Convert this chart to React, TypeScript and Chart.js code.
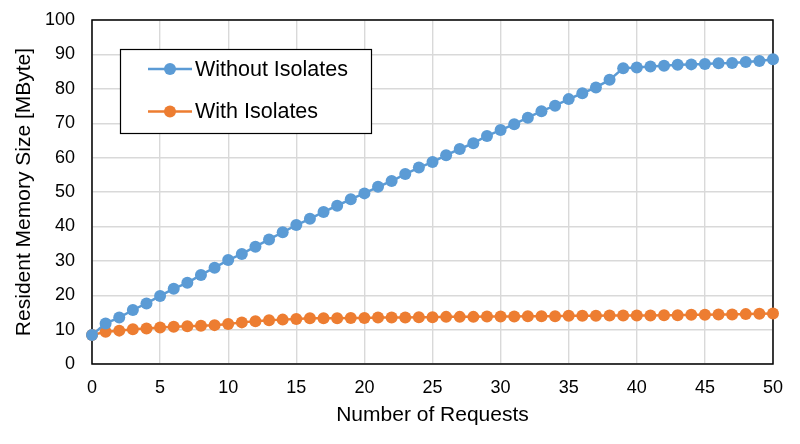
import React, { useEffect, useRef } from "react";
import { Chart, registerables } from "chart.js";

Chart.register(...registerables);

const requests: number[] = Array.from({ length: 51 }, (_, i) => i);

const withoutIsolates: number[] = [
  8.4, 11.8, 13.5, 15.7, 17.6, 19.8, 21.9, 23.6, 25.9, 28.0,
  30.2, 32.0, 34.1, 36.2, 38.3, 40.4, 42.2, 44.2, 46.0, 47.9,
  49.6, 51.5, 53.2, 55.2, 57.1, 58.7, 60.7, 62.5, 64.2, 66.3,
  68.0, 69.7, 71.6, 73.5, 75.1, 77.0, 78.7, 80.4, 82.6, 86.0,
  86.2, 86.5, 86.7, 87.0, 87.1, 87.2, 87.4, 87.5, 87.8, 88.1,
  88.6,
];

const withIsolates: number[] = [
  8.4, 9.4, 9.7, 10.1, 10.3, 10.6, 10.8, 11.0, 11.1, 11.3,
  11.6, 12.1, 12.4, 12.7, 12.9, 13.1, 13.3, 13.3, 13.3, 13.4,
  13.4, 13.5, 13.5, 13.5, 13.6, 13.6, 13.7, 13.7, 13.7, 13.8,
  13.8, 13.8, 13.9, 13.9, 13.9, 14.0, 14.0, 14.0, 14.1, 14.1,
  14.1, 14.1, 14.2, 14.2, 14.3, 14.3, 14.4, 14.4, 14.5, 14.6,
  14.7,
];

const seriesLabels: string[] = ["Without Isolates", "With Isolates"];
const seriesColors: string[] = ["#5B9BD5", "#ED7D31"];

const xTitle = "Number of Requests";
const yTitle = "Resident Memory Size [MByte]";

const FONT = "'Liberation Sans', Arial, sans-serif";

const frameAndLegend = {
  id: "frameAndLegend",
  beforeDatasetsDraw(chart: any) {
    const { ctx, chartArea } = chart;
    ctx.save();
    ctx.strokeStyle = "#000";
    ctx.lineWidth = 1.5;
    ctx.strokeRect(chartArea.left, chartArea.top, chartArea.right - chartArea.left, chartArea.bottom - chartArea.top);
    ctx.restore();
  },
  afterDraw(chart: any) {
    const { ctx, chartArea } = chart;
    const bx = chartArea.left + 28;
    const by = chartArea.top + 29;
    const bw = 251;
    const bh = 84;
    ctx.save();
    ctx.fillStyle = "#fff";
    ctx.fillRect(bx, by, bw, bh);
    ctx.strokeStyle = "#000";
    ctx.lineWidth = 1.2;
    ctx.strokeRect(bx + 0.5, by + 0.5, bw, bh);
    chart.data.datasets.forEach((ds: any, i: number) => {
      const cy = by + 20 + i * 42.5;
      const lx0 = bx + 28;
      const lx1 = bx + 72;
      ctx.strokeStyle = ds.borderColor;
      ctx.lineWidth = 2.5;
      ctx.beginPath();
      ctx.moveTo(lx0, cy);
      ctx.lineTo(lx1, cy);
      ctx.stroke();
      ctx.fillStyle = ds.backgroundColor;
      ctx.beginPath();
      ctx.arc((lx0 + lx1) / 2, cy, 6, 0, Math.PI * 2);
      ctx.fill();
      ctx.fillStyle = "#000";
      ctx.font = `21.5px ${FONT}`;
      ctx.textBaseline = "middle";
      ctx.textAlign = "left";
      ctx.fillText(ds.label, bx + 75, cy + 1);
    });
    ctx.restore();
  },
};

export default function App() {
  const canvasRef = useRef<HTMLCanvasElement | null>(null);

  useEffect(() => {
    if (!canvasRef.current) return;
    const series = [withoutIsolates, withIsolates];
    const chart = new Chart(canvasRef.current, {
      type: "line",
      data: {
        datasets: series.map((vals, i) => ({
          label: seriesLabels[i],
          data: requests.map((x, j) => ({ x, y: vals[j] })),
          borderColor: seriesColors[i],
          backgroundColor: seriesColors[i],
          pointBackgroundColor: seriesColors[i],
          pointBorderColor: seriesColors[i],
          pointRadius: 6,
          pointBorderWidth: 0,
          borderWidth: 2.5,
          tension: 0,
          clip: false as any,
        })),
      },
      options: {
        responsive: false,
        animation: false,
        layout: { autoPadding: false, padding: { top: 20, right: 27, left: 0, bottom: 16 } },
        plugins: {
          legend: { display: false },
          tooltip: { enabled: false },
        },
        scales: {
          x: {
            type: "linear",
            min: 0,
            max: 50,
            ticks: {
              stepSize: 5,
              padding: 13,
              color: "#000",
              font: { family: FONT, size: 18 },
            },
            grid: { color: "#d9d9d9", lineWidth: 1.4, drawTicks: false },
            border: { display: false },
            title: {
              display: true,
              text: xTitle,
              color: "#000",
              font: { family: FONT, size: 21 },
              padding: { top: 6, bottom: 0 },
            },
            afterFit: (scale: any) => {
              scale.height = 64;
              scale.paddingLeft = 0;
              scale.paddingRight = 0;
            },
          },
          y: {
            min: 0,
            max: 100,
            ticks: {
              stepSize: 10,
              padding: 17,
              color: "#000",
              font: { family: FONT, size: 18 },
            },
            grid: { color: "#d9d9d9", lineWidth: 1.4, drawTicks: false },
            border: { display: false },
            title: {
              display: true,
              text: yTitle,
              color: "#000",
              font: { family: FONT, size: 21 },
              padding: { top: 12, bottom: 0 },
            },
            afterFit: (scale: any) => {
              scale.width = 92;
              scale.paddingTop = 0;
              scale.paddingBottom = 0;
            },
          },
        },
      },
      plugins: [frameAndLegend],
    });
    return () => chart.destroy();
  }, []);

  return (
    <div style={{ position: "fixed", left: 0, top: 0, width: 800, height: 444, background: "#fff" }}>
      <canvas ref={canvasRef} width={800} height={444} />
    </div>
  );
}
